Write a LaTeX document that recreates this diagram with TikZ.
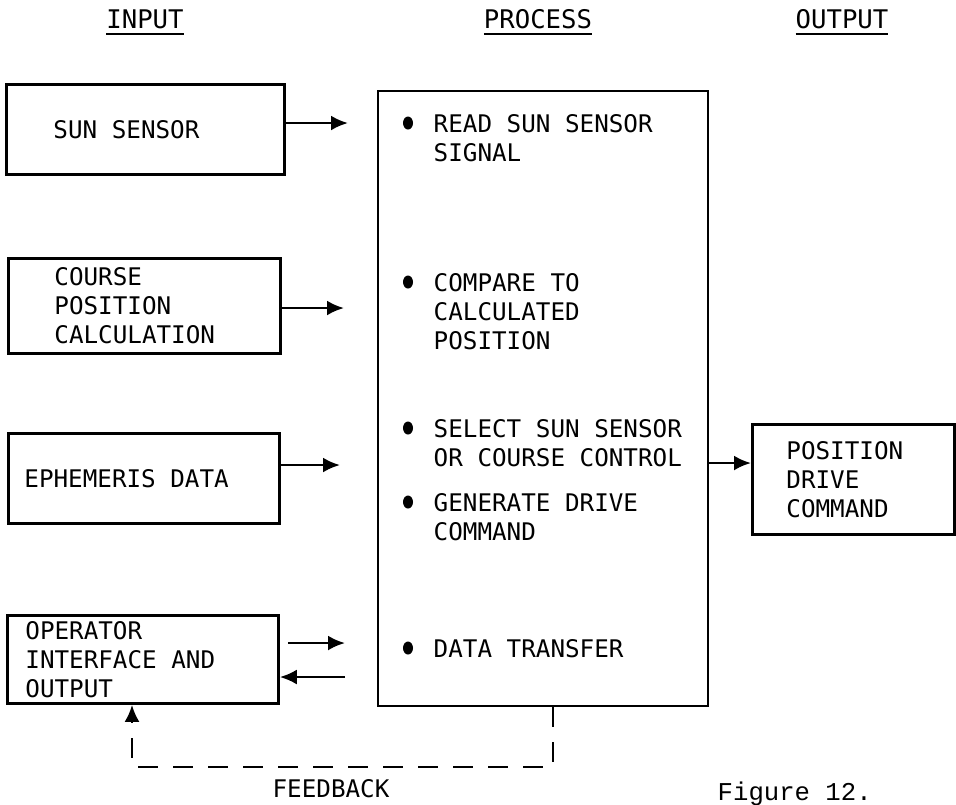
\documentclass[tikz,border=0pt]{standalone}
\usepackage{fontspec}
\usetikzlibrary{arrows.meta}
\newfontfamily\typefont{DejaVu Sans Mono}
\newfontfamily\captionfont{Liberation Mono}

\begin{document}
\begin{tikzpicture}[y = -1cm,
        txt/.style = {font=\typefont\fontsize{6.9}{8.25}\selectfont},
        inbox/.style = {txt, draw, line width=0.8pt, align=flush left, anchor=north west, inner ysep=0pt},
        item/.style = {txt, align=left, anchor=north west, inner sep=0pt},
        head/.style = {font=\typefont\fontsize{7.3}{8.5}\selectfont},
        arr/.style = {-{Latex[length=0.17cm, width=0.15cm]}, line width=0.75pt}]
        \useasboundingbox (0, 0) rectangle (9.56, 8.04);
        % column heads
        \node[head] (inhead) at (1.45, 0.23) {\underline{INPUT}};
        \node[head] (prochead) at (5.38, 0.23) {\underline{PROCESS}};
        \node[head] (outhead) at (8.42, 0.23) {\underline{OUTPUT}};
        % input and output boxes
        \foreach \nm/\x/\y/\w/\h/\pad/\lab in {sun/0.05/0.83/2.78/0.90/0.47/{SUN SENSOR},
                course/0.07/2.57/2.72/0.95/0.46/{COURSE\\POSITION\\CALCULATION},
                eph/0.07/4.32/2.71/0.90/0.16/{EPHEMERIS DATA},
                oper/0.06/6.14/2.71/0.88/0.18/{OPERATOR\\INTERFACE AND\\OUTPUT},
                pos/7.51/4.23/2.02/1.10/0.34/{POSITION\\DRIVE\\COMMAND}}{
            \pgfmathsetmacro\tw{\w - 2*\pad}
            \node[inbox, minimum width=\w cm, minimum height=\h cm, inner xsep=\pad cm, text width=\tw cm] (\nm) at (\x, \y) {\lab};
        }
        % process box
        \node[draw, line width=0.6pt, anchor=north west, minimum width=3.30cm, minimum height=6.15cm] (proc) at (3.77, 0.90) {};
        \foreach \y/\lab [count=\i] in {1.23/{READ SUN SENSOR\\SIGNAL}, 2.82/{COMPARE TO\\CALCULATED\\POSITION},
                4.28/{SELECT SUN SENSOR\\OR COURSE CONTROL}, 5.02/{GENERATE DRIVE\\COMMAND}, 6.48/{DATA TRANSFER}}{
            \fill (4.08, \y) ellipse [x radius=0.05, y radius=0.065];
            \node[item] (item\i) at (4.33, \y - 0.09) {\lab};
        }
        % arrows into the process
        \coordinate (sunin) at (3.48, 1.23);
        \coordinate (coursein) at (3.44, 3.08);
        \coordinate (ephin) at (3.40, 4.65);
        \coordinate (operin) at (3.45, 6.43);
        \coordinate (operback) at (3.45, 6.77);
        \coordinate (posin) at (7.51, 4.63);
        \draw[arr] (sun.east |- sunin) -- (sunin);
        \draw[arr] (course.east |- coursein) -- (coursein);
        \draw[arr] (eph.east |- ephin) -- (ephin);
        \draw[arr, shorten <=0.08cm] (oper.east |- operin) -- (operin);
        \draw[arr] (operback) -- (oper.east |- operback);
        \draw[arr] (proc.east |- posin) -- (pos.west |- posin);
        % feedback loop
        \coordinate (fbr) at (5.53, 7.67);
        \coordinate (fbl) at (1.32, 7.67);
        \draw[arr, dash pattern=on 0.2cm off 0.15cm] (proc.south -| fbr) -- (fbr) -- (fbl) -- (oper.south -| fbl);
        \node[txt] (fblabel) at (3.31, 7.89) {FEEDBACK};
        \node[anchor=base west, inner sep=0pt, font=\captionfont\fontsize{7.3}{8.5}\selectfont] (figlabel) at (7.17, 8.00) {Figure 12.};
    \end{tikzpicture}
\end{document}
